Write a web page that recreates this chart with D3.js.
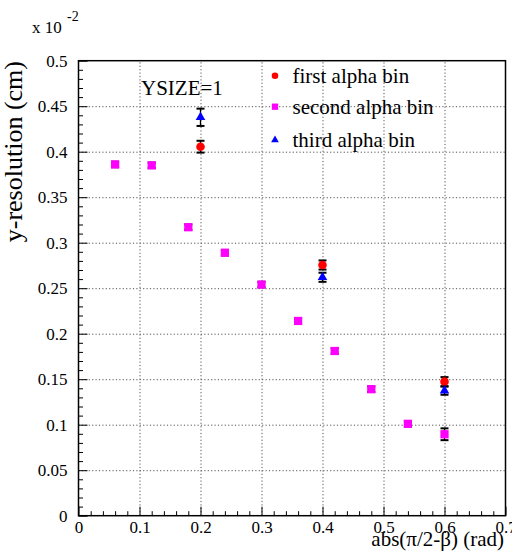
<!DOCTYPE html>
<html>
<head>
<meta charset="utf-8">
<script src="https://cdn.jsdelivr.net/npm/d3@7"></script>
<style>
  body { margin: 0; background: #fff; }
  svg { display: block; }
  text { font-family: "Liberation Serif", "Times New Roman", serif; }
</style>
</head>
<body>
<svg id="chart"></svg>
<script>
// values in units of 10^-2 cm
const firstX = [0.2, 0.4, 0.6];
const firstY = [0.4055, 0.2755, 0.1473];
const firstErr = [0.0065, 0.005, 0.005];

const secondX = [0.06, 0.12, 0.18, 0.24, 0.30, 0.36, 0.42, 0.48, 0.54, 0.60];
const secondY = [0.386, 0.385, 0.317, 0.289, 0.254, 0.214, 0.181, 0.139, 0.101, 0.0895];
const secondErr = [0.003, 0.003, 0.003, 0.003, 0.003, 0.003, 0.003, 0.003, 0.003, 0.0065];

const thirdX = [0.2, 0.4, 0.6];
const thirdY = [0.4378, 0.262, 0.1374];
const thirdErr = [0.0095, 0.005, 0.0045];

const xTicks = [0, 0.1, 0.2, 0.3, 0.4, 0.5, 0.6, 0.7];
const yTicks = [0, 0.05, 0.1, 0.15, 0.2, 0.25, 0.3, 0.35, 0.4, 0.45, 0.5];
const legendLabels = ['first alpha bin', 'second alpha bin', 'third alpha bin'];

const W = 512, H = 557;
const margin = {left: 78.5, right: 6.5, top: 60.7, bottom: 41.3};
const iw = W - margin.left - margin.right;
const ih = H - margin.top - margin.bottom;
const serif = '"Liberation Serif", "Times New Roman", serif';

const svg = d3.select('#chart').attr('width', W).attr('height', H);
const g = svg.append('g').attr('transform', `translate(${margin.left},${margin.top})`);

const x = d3.scaleLinear().domain([0, 0.7]).range([0, iw]);
const y = d3.scaleLinear().domain([0, 0.5]).range([ih, 0]);

const fmt = d => d === 0 ? '0' : String(+d.toFixed(2));

// grid
g.append('g')
  .attr('transform', `translate(0,${ih})`)
  .call(d3.axisBottom(x).tickValues(xTicks.slice(1, -1)).tickSize(-ih).tickFormat(''))
  .call(a => a.select('.domain').remove())
  .call(a => a.selectAll('line').attr('stroke', '#555').attr('stroke-dasharray', '1.2,2.2'));
g.append('g')
  .call(d3.axisLeft(y).tickValues(yTicks.slice(1, -1)).tickSize(-iw).tickFormat(''))
  .call(a => a.select('.domain').remove())
  .call(a => a.selectAll('line').attr('stroke', '#555').attr('stroke-dasharray', '1.2,2.2'));

// minor ticks
const xMinor = d3.range(0, 71).filter(i => i % 2 === 0 && i % 10 !== 0).map(i => i / 100);
const yMinor = d3.range(0, 51).filter(i => i % 5 !== 0).map(i => i / 100);
g.append('g')
  .attr('transform', `translate(0,${ih})`)
  .call(d3.axisBottom(x).tickValues(xMinor).tickSize(-4.5).tickFormat(''))
  .call(a => a.select('.domain').remove());
g.append('g')
  .call(d3.axisLeft(y).tickValues(yMinor).tickSize(-4.5).tickFormat(''))
  .call(a => a.select('.domain').remove());

// major axes
g.append('g')
  .attr('transform', `translate(0,${ih})`)
  .call(d3.axisBottom(x).tickValues(xTicks).tickSize(-9).tickPadding(5).tickFormat(fmt))
  .call(a => a.select('.domain').remove())
  .call(a => a.attr('font-family', serif).attr('font-size', 17))
  .call(a => a.selectAll('text').attr('fill', '#000').attr('font-family', serif));
g.append('g')
  .call(d3.axisLeft(y).tickValues(yTicks).tickSize(-9).tickPadding(11).tickFormat(fmt))
  .call(a => a.select('.domain').remove())
  .call(a => a.attr('font-family', serif).attr('font-size', 17))
  .call(a => a.selectAll('text').attr('fill', '#000').attr('font-family', serif));

// frame
g.append('rect').attr('width', iw).attr('height', ih)
  .attr('fill', 'none').attr('stroke', '#000').attr('stroke-width', 1.5);

// series
const series = [
  {xs: firstX, ys: firstY, es: firstErr, color: '#ff0000', shape: d3.symbolCircle, size: 58},
  {xs: secondX, ys: secondY, es: secondErr, color: '#ff00ff', shape: d3.symbolSquare, size: 68},
  {xs: thirdX, ys: thirdY, es: thirdErr, color: '#0000ff', shape: d3.symbolTriangle, size: 40}
];

series.forEach(s => {
  const pts = s.xs.map((v, i) => ({x: v, y: s.ys[i], e: s.es[i]}));
  const eg = g.append('g').attr('stroke', '#000').attr('stroke-width', 1.3);
  pts.forEach(p => {
    const cx = x(p.x);
    eg.append('line').attr('x1', cx).attr('x2', cx).attr('y1', y(p.y - p.e)).attr('y2', y(p.y + p.e));
    [p.y - p.e, p.y + p.e].forEach(v => {
      eg.append('line').attr('x1', cx - 4).attr('x2', cx + 4).attr('y1', y(v)).attr('y2', y(v)).attr('stroke-width', 2);
    });
  });
  g.append('g').selectAll('path').data(pts).join('path')
    .attr('d', d3.symbol().type(s.shape).size(s.size))
    .attr('transform', d => `translate(${x(d.x)},${y(d.y)})`)
    .attr('fill', s.color);
});

// legend
const legRows = [75.7, 106.7, 140];
const legSizes = [34, 40, 26];
legendLabels.forEach((lab, i) => {
  svg.append('path')
    .attr('d', d3.symbol().type(series[i].shape).size(legSizes[i]))
    .attr('transform', `translate(275,${legRows[i]})`)
    .attr('fill', series[i].color);
  svg.append('text').attr('x', 292.5).attr('y', legRows[i] + 7)
    .attr('font-size', 21).text(lab);
});

// labels
svg.append('text').attr('x', 141).attr('y', 95).attr('font-size', 21).text('YSIZE=1');

svg.append('text').attr('x', 504).attr('y', 546).attr('text-anchor', 'end')
  .attr('font-size', 21).text('abs(\u03C0/2-\u03B2) (rad)');

svg.append('text').attr('transform', 'translate(22,61) rotate(-90)')
  .attr('text-anchor', 'end').attr('font-size', 26).text('y-resolution (cm)');

svg.append('text').attr('x', 32).attr('y', 33).attr('font-size', 17).text('x 10');
svg.append('text').attr('x', 67).attr('y', 21).attr('font-size', 14).text('-2');
</script>
</body>
</html>
